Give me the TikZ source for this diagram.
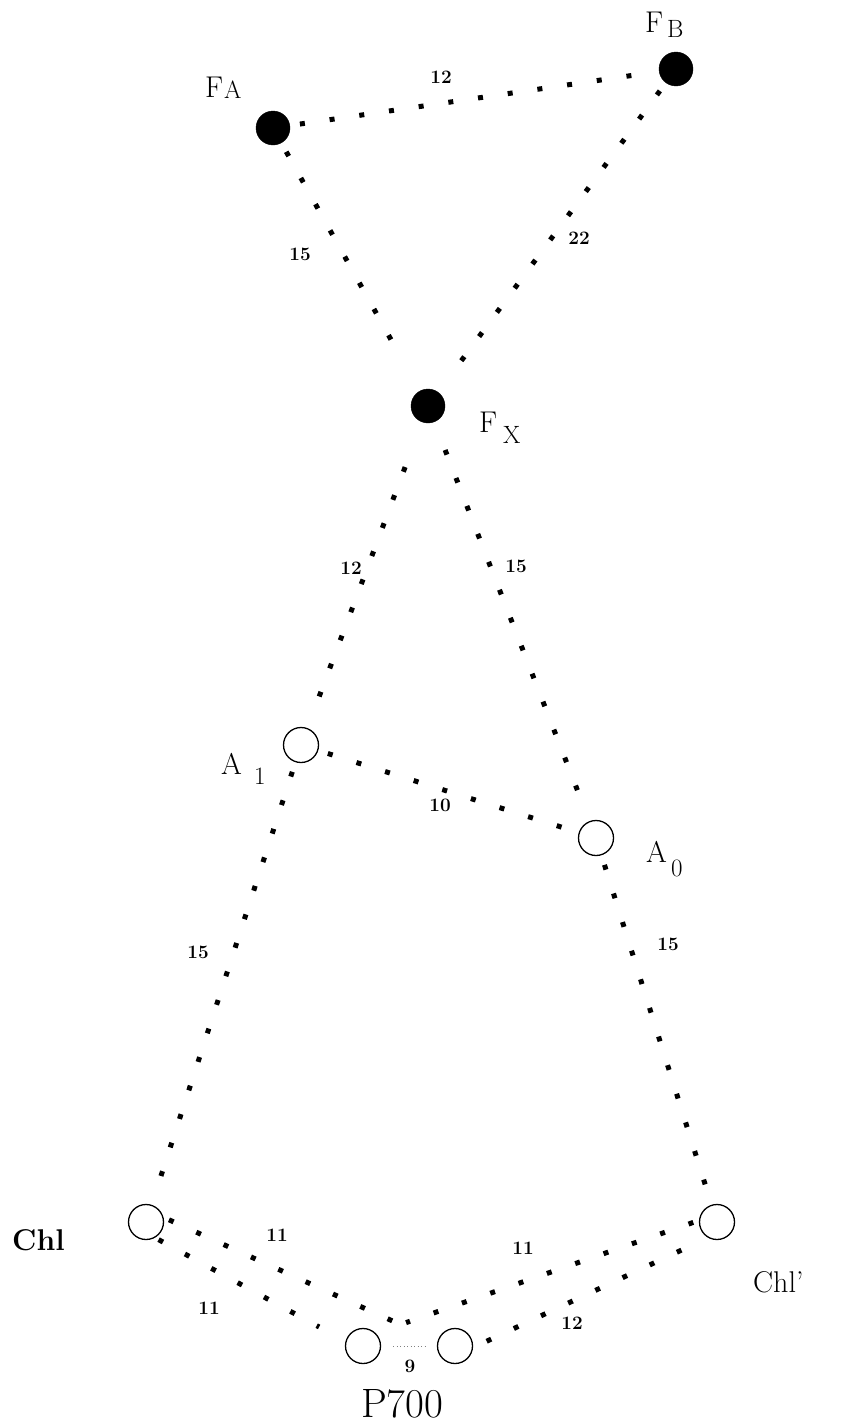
\documentclass[tikz,border=0pt]{standalone}
\begin{document}
\begin{tikzpicture}[x=1pt,y=-1pt,
 fe/.style={circle,fill=black,draw=black,minimum size=34pt,inner sep=0pt},
 oc/.style={circle,draw=black,line width=1.3pt,minimum size=35pt,inner sep=0pt},
 dl/.style={line width=5pt,dash pattern=on 5pt off 25pt,shorten <=10pt,shorten >=10pt},
 num/.style={font=\fontsize{19}{19}\selectfont\bfseries,inner sep=0pt},
 lab/.style={font=\fontsize{30}{30}\selectfont,inner sep=0pt,anchor=base west},
 sub/.style={font=\fontsize{25}{25}\selectfont,inner sep=0pt,anchor=base west},
]
\useasboundingbox (0,0) rectangle (846,1424);
% nodes
\node[fe] (FA) at (273,128) {};
\node[fe] (FB) at (676,69) {};
\node[fe] (FX) at (428,406) {};
\node[oc] (A1) at (301,745) {};
\node[oc] (A0) at (596,838) {};
\node[oc] (Chl) at (146,1222) {};
\node[oc] (Chlp) at (717,1222) {};
\node[oc] (PL) at (363,1346) {};
\node[oc] (PR) at (455,1346) {};
% labels
\node[lab] (tFA) at (205,97) {F};
\node[sub] (sFA) at (224,98) {A};
\node[lab] (tFB) at (645,32) {F};
\node[sub] (sFB) at (667,37) {B};
\node[lab] (tFX) at (479,432) {F};
\node[sub] (sFX) at (503,443) {X};
\node[lab] (tA1) at (221,774) {A};
\node[sub] (sA1) at (254,784) {1};
\node[lab] (tA0) at (646,862) {A};
\node[sub] (sA0) at (671,876) {0};
\node[lab,font=\fontsize{30}{30}\selectfont\bfseries] (tChl) at (12,1250) {Chl};
\node[lab] (tChlp) at (753,1292) {Chl'};
\node[font=\fontsize{41}{41}\selectfont,inner sep=0pt,anchor=base west] (tP) at (361,1417) {P700};
% connectors
\draw[dl] (FA) -- (FB);
\draw[dl,shorten >=48pt] (FA) -- (FX);
\draw[dl,shorten >=36pt] (FB) -- (FX);
\draw[dl,shorten <=48pt] (FX) -- (A1);
\draw[dl,shorten <=30pt] (FX) -- (A0);
\draw[dl] (A1) -- (A0);
\draw[dl] (A1) -- (Chl);
\draw[dl] (A0) -- (Chlp);
\draw[dl,shorten <=4pt,shorten >=30pt] (Chl.-60) -- (PL.165);
\draw[dl,shorten <=6pt,shorten >=25pt] (Chl.15) -- (PR.165);
\draw[dl,shorten <=6pt,shorten >=32pt] (Chlp.175) -- (PL.45);
\draw[dl,shorten <=15pt,shorten >=8pt] (PR.-5) -- (Chlp.-120);
\draw[gray,line width=0.6pt,dash pattern=on 1pt off 2.5pt,shorten <=12pt,shorten >=12pt] (PL) -- (PR);
% distances
\node[num] (d1) at (441,77) {12};
\node[num] (d2) at (300,254) {15};
\node[num] (d3) at (579,238) {22};
\node[num] (d4) at (351,568) {12};
\node[num] (d5) at (516,566) {15};
\node[num] (d6) at (440,805) {10};
\node[num] (d7) at (198,952) {15};
\node[num] (d8) at (668,944) {15};
\node[num] (d9) at (277,1235) {11};
\node[num] (d10) at (209,1308) {11};
\node[num] (d11) at (523,1248) {11};
\node[num] (d12) at (572,1323) {12};
\node[num] (d13) at (410,1366) {9};
\end{tikzpicture}
\end{document}
